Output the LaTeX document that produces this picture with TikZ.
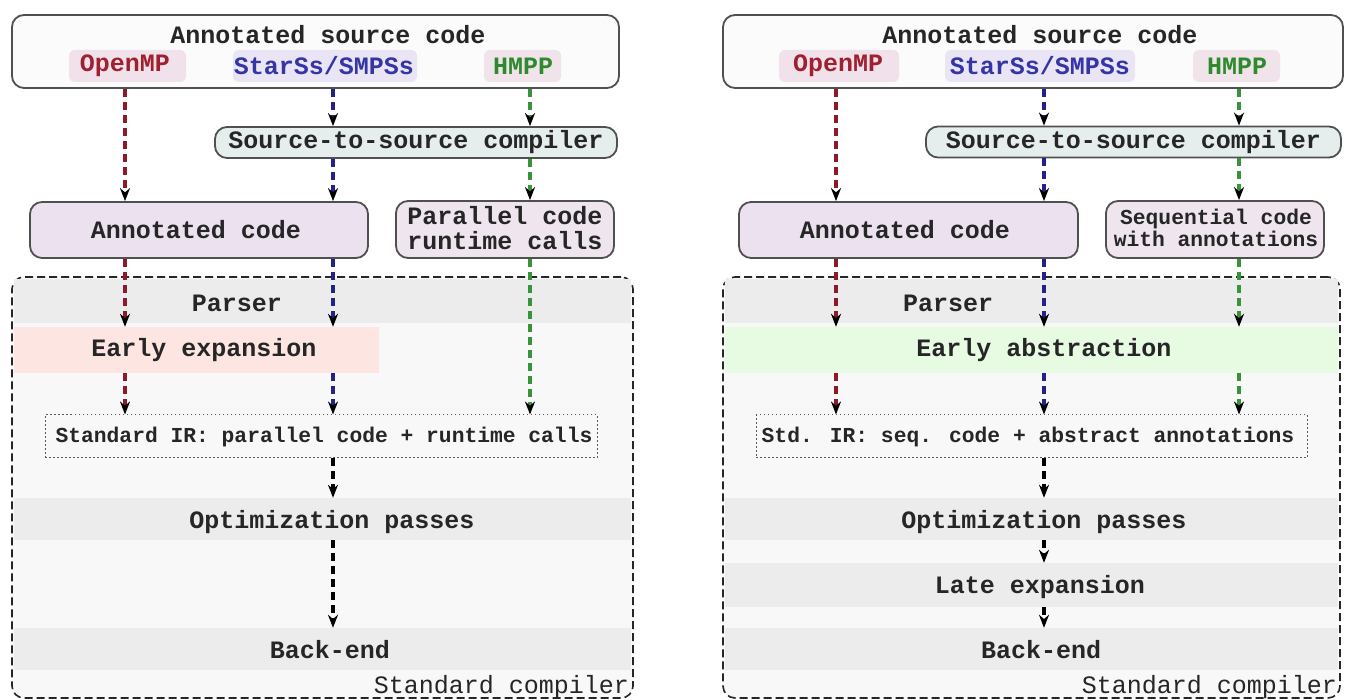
\documentclass[tikz,border=0pt]{standalone}
\usepackage{fontspec}
\setmainfont{Liberation Mono}
\usetikzlibrary{arrows.meta}
\definecolor{boxc}{HTML}{505050}
\definecolor{redc}{HTML}{8E1A28}
\definecolor{bluec}{HTML}{22228A}
\definecolor{greenc}{HTML}{389438}
\definecolor{redt}{HTML}{A02030}
\definecolor{bluet}{HTML}{3535A5}
\definecolor{greent}{HTML}{2E8A2E}
\definecolor{ompbg}{HTML}{F1E1EA}
\definecolor{ssbg}{HTML}{E9E5F5}
\definecolor{hmppbg}{HTML}{F1E3EA}
\definecolor{topfill}{HTML}{FBFBFB}
\definecolor{stsfill}{HTML}{E5EDED}
\definecolor{annfill}{HTML}{ECE2EF}
\definecolor{parfill}{HTML}{EFE5EF}
\definecolor{contfill}{HTML}{F8F8F8}
\definecolor{bandc}{HTML}{ECECEC}
\definecolor{eexp}{HTML}{FDE6E2}
\definecolor{eabs}{HTML}{E6FBE2}
\newcommand{\bigf}{\fontsize{25}{25}\selectfont\bfseries}
\newcommand{\smallf}{\fontsize{21.3}{22}\selectfont\bfseries}
\newcommand{\regf}{\fontsize{25}{25}\selectfont}
\begin{document}
\begin{tikzpicture}[x=1pt,y=-1pt,
  bx/.style={draw=boxc, line width=1.8pt, rounded corners=12pt, inner sep=0pt},
  lbl/.style={rounded corners=6pt, inner sep=0pt, minimum height=32pt},
  band/.style={inner sep=0pt, draw=none},
  txt/.style={inner sep=0pt, font=\bigf, text=black!85},
  cont/.style={draw=black!85, fill=contfill, line width=1.6pt, dash pattern=on 8pt off 4pt, rounded corners=12pt, inner sep=0pt},
  irbox/.style={draw=black!65, line width=1pt, dash pattern=on 1.5pt off 2.5pt, inner sep=0pt},
  arr/.style={line width=3.4pt, dash pattern=on 8pt off 5pt, -{Stealth[length=13pt,width=10pt,black]}},
  ra/.style={arr, draw=redc},
  ba/.style={arr, draw=bluec},
  ga/.style={arr, draw=greenc},
  ka/.style={arr, draw=black}]
\useasboundingbox[fill=white] (0,0) rectangle (1350,700);

% ================= LEFT =================
\node[bx, fill=topfill, minimum width=607pt, minimum height=73pt] (topL) at (315.5,51.5) {};
\node[txt] (titL) at (328,35) {Annotated source code};
\node[lbl, fill=ompbg, minimum width=117pt] (ompL) at (127.5,66) {};
\node[txt, text=redt] (ompLt) at (125,66) {OpenMP};
\node[lbl, fill=ssbg, minimum width=184pt] (ssL) at (325,66) {};
\node[txt, text=bluet] (ssLt) at (324,66) {StarSs/SMPSs};
\node[lbl, fill=hmppbg, minimum width=77pt] (hmL) at (522.5,66) {};
\node[txt, text=greent] (hmLt) at (523,66) {HMPP};

\node[bx, fill=stsfill, minimum width=402pt, minimum height=31pt] (stsL) at (416,142.5) {};
\node[txt] (stsLt) at (416,142.5) {Source-to-source compiler};

\node[bx, fill=annfill, minimum width=338pt, minimum height=56pt] (annL) at (199,230) {};
\node[txt] (annLt) at (196,230) {Annotated code};
\node[bx, fill=parfill, minimum width=218pt, minimum height=57pt] (parL) at (505,229.5) {};
\node[txt, align=center] (parLt) at (505,228) {Parallel code\\runtime calls};

\node[cont, minimum width=621pt, minimum height=421pt] (contL) at (322.5,487.5) {};
\node[band, fill=bandc, minimum width=617pt, minimum height=44pt] (parsL) at (322.5,301) {};
\node[txt] (parsLt) at (237,303) {Parser};
\node[band, fill=eexp, minimum width=365pt, minimum height=46pt] (eeL) at (196.5,350) {};
\node[txt] (eeLt) at (204,350) {Early expansion};
\node[irbox, minimum width=552pt, minimum height=43pt] (irL) at (321,436.5) {};
\node[inner sep=0pt, font=\smallf, text=black!85] (irLt) at (324,437) {Standard IR: parallel code + runtime calls};
\node[band, fill=bandc, minimum width=617pt, minimum height=42pt] (optL) at (322.5,519) {};
\node[txt] (optLt) at (332,522) {Optimization passes};
\node[band, fill=bandc, minimum width=617pt, minimum height=42pt] (beL) at (322.5,649) {};
\node[txt] (beLt) at (330,650) {Back-end};
\node[inner sep=0pt, font=\regf, text=black!85, anchor=east] (scL) at (629,687) {Standard compiler};

\coordinate (rL) at (125,0);
\coordinate (bL) at (333,0);
\coordinate (gL) at (530,0);

\draw[ra] (topL.south -| rL) -- (annL.north -| rL);
\draw[ra] (annL.south -| rL) -- (eeL.north -| rL);
\draw[ra] (eeL.south -| rL) -- (irL.north -| rL);
\draw[ba] (topL.south -| bL) -- (stsL.north -| bL);
\draw[ba] (stsL.south -| bL) -- (annL.north -| bL);
\draw[ba] (annL.south -| bL) -- (eeL.north -| bL);
\draw[ba] (eeL.south -| bL) -- (irL.north -| bL);
\draw[ga] (topL.south -| gL) -- (stsL.north -| gL);
\draw[ga] (stsL.south -| gL) -- (parL.north -| gL);
\draw[ga] (parL.south -| gL) -- (irL.north -| gL);
\draw[ka] (irL.south -| bL) -- (optL.north -| bL);
\draw[ka] (optL.south -| bL) -- (beL.north -| bL);

% ================= RIGHT =================
\node[bx, fill=topfill, minimum width=620pt, minimum height=73pt] (topR) at (1033,51.5) {};
\node[txt] (titR) at (1040,35) {Annotated source code};
\node[lbl, fill=ompbg, minimum width=120pt] (ompR) at (839,66) {};
\node[txt, text=redt] (ompRt) at (838,66) {OpenMP};
\node[lbl, fill=ssbg, minimum width=190pt] (ssR) at (1040,66) {};
\node[txt, text=bluet] (ssRt) at (1040,66) {StarSs/SMPSs};
\node[lbl, fill=hmppbg, minimum width=87pt] (hmR) at (1236.5,66) {};
\node[txt, text=greent] (hmRt) at (1237,66) {HMPP};

\node[bx, fill=stsfill, minimum width=415pt, minimum height=31pt] (stsR) at (1133.5,142) {};
\node[txt] (stsRt) at (1133.5,142) {Source-to-source compiler};

\node[bx, fill=annfill, minimum width=339pt, minimum height=56pt] (annR) at (908.5,230) {};
\node[txt] (annRt) at (905,230) {Annotated code};
\node[bx, fill=parfill, minimum width=218pt, minimum height=57pt] (seqR) at (1215,229.5) {};
\node[inner sep=0pt, font=\smallf, text=black!85, align=center] (seqRt) at (1216,228) {Sequential code\\with annotations};

\node[cont, minimum width=617pt, minimum height=421pt] (contR) at (1031.5,487.5) {};
\node[band, fill=bandc, minimum width=613pt, minimum height=44pt] (parsR) at (1031.5,301) {};
\node[txt] (parsRt) at (948,303) {Parser};
\node[band, fill=eabs, minimum width=613pt, minimum height=46pt] (eaR) at (1031.5,350) {};
\node[txt] (eaRt) at (1044,350) {Early abstraction};
\node[irbox, minimum width=551pt, minimum height=43pt] (irR) at (1031.5,436.5) {};
\node[inner sep=0pt, font=\smallf, text=black!85] (irRt) at (1028,437) {Std. IR: seq. code + abstract annotations};
\node[band, fill=bandc, minimum width=613pt, minimum height=42pt] (optR) at (1031.5,519) {};
\node[txt] (optRt) at (1044,522) {Optimization passes};
\node[band, fill=bandc, minimum width=613pt, minimum height=44pt] (leR) at (1031.5,585) {};
\node[txt] (leRt) at (1040,587) {Late expansion};
\node[band, fill=bandc, minimum width=613pt, minimum height=42pt] (beR) at (1031.5,649) {};
\node[txt] (beRt) at (1041,650) {Back-end};
\node[inner sep=0pt, font=\regf, text=black!85, anchor=east] (scR) at (1337,687) {Standard compiler};

\coordinate (rR) at (836,0);
\coordinate (bR) at (1044,0);
\coordinate (gR) at (1239,0);

\draw[ra] (topR.south -| rR) -- (annR.north -| rR);
\draw[ra] (annR.south -| rR) -- (eaR.north -| rR);
\draw[ra] (eaR.south -| rR) -- (irR.north -| rR);
\draw[ba] (topR.south -| bR) -- (stsR.north -| bR);
\draw[ba] (stsR.south -| bR) -- (annR.north -| bR);
\draw[ba] (annR.south -| bR) -- (eaR.north -| bR);
\draw[ba] (eaR.south -| bR) -- (irR.north -| bR);
\draw[ga] (topR.south -| gR) -- (stsR.north -| gR);
\draw[ga] (stsR.south -| gR) -- (seqR.north -| gR);
\draw[ga] (seqR.south -| gR) -- (eaR.north -| gR);
\draw[ga] (eaR.south -| gR) -- (irR.north -| gR);
\draw[ka] (irR.south -| bR) -- (optR.north -| bR);
\draw[ka] (optR.south -| bR) -- (leR.north -| bR);
\draw[ka] (leR.south -| bR) -- (beR.north -| bR);
\end{tikzpicture}
\end{document}
